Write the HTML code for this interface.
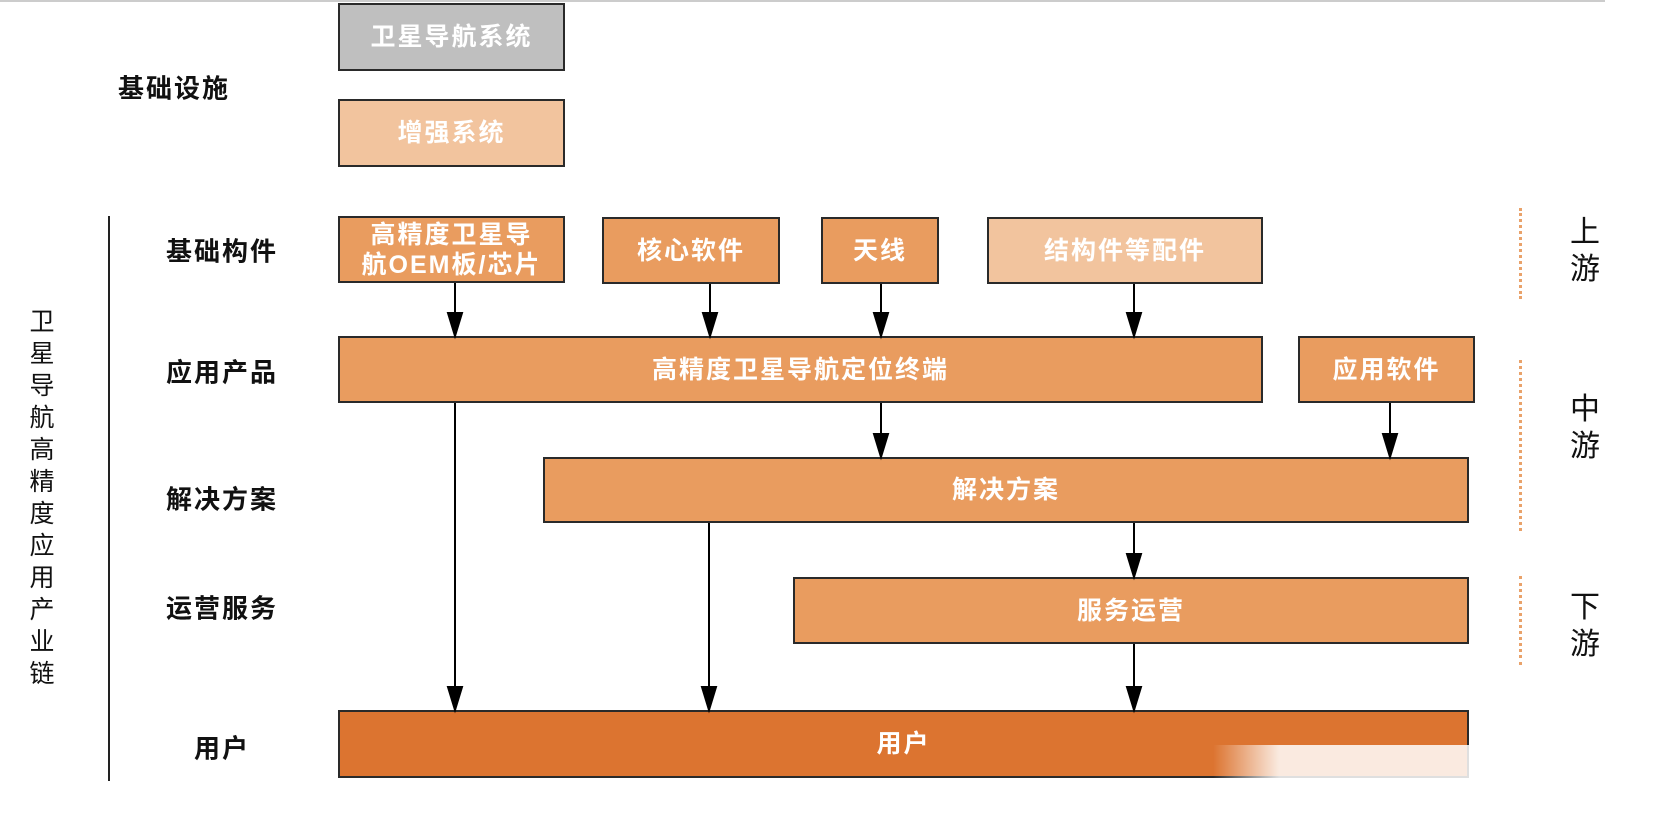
<!DOCTYPE html>
<html><head><meta charset="utf-8"><style>
body{margin:0;width:1654px;height:834px;background:#fff;position:relative;overflow:hidden;font-family:"Liberation Sans","Noto Sans CJK SC",sans-serif}
.b{position:absolute;box-sizing:border-box;border:2px solid #2a2a2a;color:#fff;display:flex;align-items:center;justify-content:center;text-align:center;font-size:25px;line-height:30px;background:#E99C5F;letter-spacing:2px;font-weight:bold}
.l{position:absolute;font-size:26px;color:#111;transform:translate(-50%,-50%);white-space:nowrap;letter-spacing:2px;font-weight:bold}
.d{position:absolute;width:0;border-left:3px dotted #E9A26A}
</style></head><body>
<div style="position:absolute;left:0;top:0;width:1605px;height:2px;background:#ccc"></div>
<div class="b" style="left:338px;top:3px;width:227px;height:68px;background:#BFBFBF">卫星导航系统</div>
<div class="b" style="left:338px;top:99px;width:227px;height:68px;background:#F2C49E">增强系统</div>
<div class="l" style="left:174px;top:87px">基础设施</div>
<div style="position:absolute;left:108px;top:216px;width:2px;height:565px;background:#222"></div>
<div style="position:absolute;left:28px;top:306px;width:28px;font-size:25px;line-height:32px;color:#111;text-align:center">卫星导航高精度应用产业链</div>
<div class="l" style="left:222px;top:250px">基础构件</div>
<div class="l" style="left:222px;top:371px">应用产品</div>
<div class="l" style="left:222px;top:498px">解决方案</div>
<div class="l" style="left:222px;top:607px">运营服务</div>
<div class="l" style="left:222px;top:747px">用户</div>
<div class="b" style="left:338px;top:216px;width:227px;height:67px">高精度卫星导<br>航OEM板/芯片</div>
<div class="b" style="left:602px;top:217px;width:178px;height:67px">核心软件</div>
<div class="b" style="left:821px;top:217px;width:118px;height:67px">天线</div>
<div class="b" style="left:987px;top:217px;width:276px;height:67px;background:#F2C49E">结构件等配件</div>
<div class="b" style="left:338px;top:336px;width:925px;height:67px">高精度卫星导航定位终端</div>
<div class="b" style="left:1298px;top:336px;width:177px;height:67px">应用软件</div>
<div class="b" style="left:543px;top:457px;width:926px;height:66px">解决方案</div>
<div class="b" style="left:793px;top:577px;width:676px;height:67px">服务运营</div>
<div class="b" style="left:338px;top:710px;width:1131px;height:68px;background:#DC7430">用户</div>
<div style="position:absolute;left:1213px;top:745px;width:441px;height:75px;background:linear-gradient(to right,rgba(255,255,255,0),rgba(255,255,255,.85) 15%,rgba(255,255,255,.85))"></div>
<svg style="position:absolute;left:0;top:0" width="1654" height="834">
<g stroke="#000" stroke-width="2">
<line x1="455" y1="283" x2="455" y2="322"/><path d="M448,313 L462,313 L455,336z"/>
<line x1="710" y1="284" x2="710" y2="322"/><path d="M703,313 L717,313 L710,336z"/>
<line x1="881" y1="284" x2="881" y2="322"/><path d="M874,313 L888,313 L881,336z"/>
<line x1="1134" y1="284" x2="1134" y2="322"/><path d="M1127,313 L1141,313 L1134,336z"/>
<line x1="881" y1="403" x2="881" y2="443"/><path d="M874,434 L888,434 L881,457z"/>
<line x1="1390" y1="403" x2="1390" y2="443"/><path d="M1383,434 L1397,434 L1390,457z"/>
<line x1="1134" y1="523" x2="1134" y2="563"/><path d="M1127,554 L1141,554 L1134,577z"/>
<line x1="455" y1="403" x2="455" y2="696"/><path d="M448,687 L462,687 L455,710z"/>
<line x1="709" y1="523" x2="709" y2="696"/><path d="M702,687 L716,687 L709,710z"/>
<line x1="1134" y1="644" x2="1134" y2="696"/><path d="M1127,687 L1141,687 L1134,710z"/>
</g></svg>
<div class="d" style="left:1519px;top:208px;height:91px"></div>
<div class="d" style="left:1519px;top:360px;height:171px"></div>
<div class="d" style="left:1519px;top:576px;height:89px"></div>
<div style="position:absolute;left:1568px;top:214px;width:34px;font-size:30px;line-height:37px;color:#111;text-align:center">上<br>游</div>
<div style="position:absolute;left:1568px;top:391px;width:34px;font-size:30px;line-height:37px;color:#111;text-align:center">中<br>游</div>
<div style="position:absolute;left:1568px;top:589px;width:34px;font-size:30px;line-height:37px;color:#111;text-align:center">下<br>游</div>
</body></html>
